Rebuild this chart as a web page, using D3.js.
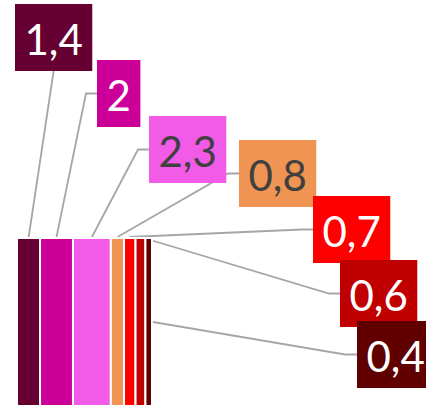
<!DOCTYPE html>
<html>
<head>
    <title></title>
    <style>
        body { margin: 0; background: #fff; }
    </style>
</head>
<body>
<div id="container"></div>

<script src="https://d3js.org/d3.v7.min.js" type="text/javascript"></script>
<script type="text/javascript">
    let w = 426;
    let h = 407;

    // data
    const categories = ['a', 'b', 'c', 'd', 'e', 'f', 'g'];
    const values = [1.4, 2, 2.3, 0.8, 0.7, 0.6, 0.4];
    const valueLabels = ['1,4', '2', '2,3', '0,8', '0,7', '0,6', '0,4'];

    const colors = ['#660033', '#cc0099', '#f25ae8', '#f09453', '#ff0000', '#c00000', '#600000'];
    const textColors = ['#fff', '#fff', '#404040', '#404040', '#fff', '#fff', '#fff'];
    // label box top-left (moved by hand in the original)
    const labelPos = [[15, 4], [97, 60], [149, 116], [239, 140], [313, 196], [340, 260], [357, 321]];

    const svg = d3.select('#container')
        .append('svg')
        .attr('width', w)
        .attr('height', h);

    const margin = {left: 17, right: 274, top: 238, bottom: 1};

    let total = d3.sum(values);
    let x = d3.scaleLinear().domain([0, total]).range([margin.left, w - margin.right]);
    let y = d3.scaleBand().domain(['bar']).range([margin.top, h - margin.bottom]);

    let starts = [];
    let acc = 0;
    values.forEach(v => { starts.push(acc); acc += v; });

    // leader lines first so bars sit on top
    const lines = svg.append('g');
    const main = svg.append('g');
    const labels = svg.append('g');

    main.selectAll('rect')
        .data(values)
        .enter()
        .append('rect')
        .attr('x', (d, i) => x(starts[i]))
        .attr('y', y('bar'))
        .attr('width', (d, i) => x(starts[i] + d) - x(starts[i]))
        .attr('height', y.bandwidth())
        .style('fill', (d, i) => colors[i])
        .style('stroke', '#fff')
        .style('stroke-width', 2);

    const padX = 9.5;
    const boxH = 67;

    valueLabels.forEach((t, i) => {
        let g = labels.append('g');
        let p = labelPos[i];
        let rect = g.append('rect');
        let txt = g.append('text')
            .text(t)
            .style('font-family', 'Lato, sans-serif')
            .style('font-size', '42px')
            .style('fill', textColors[i]);
        let tw = txt.node().getComputedTextLength();
        let bw = tw + padX * 2;
        rect.attr('x', p[0]).attr('y', p[1])
            .attr('width', bw).attr('height', boxH)
            .style('fill', colors[i]);
        txt.attr('x', p[0] + padX).attr('y', p[1] + 51);

        // leader line
        let pts;
        let cx = x(starts[i] + values[i] / 2);
        if (i === 0) {
            pts = [[p[0] + bw / 2, p[1] + boxH], [cx, y('bar')]];
        } else if (i === values.length - 1) {
            let ym = y('bar') + y.bandwidth() / 2;
            pts = [[p[0], p[1] + boxH / 2], [p[0] - 12, p[1] + boxH / 2], [x(total) + 1, ym]];
        } else {
            pts = [[p[0], p[1] + boxH / 2], [p[0] - 11, p[1] + boxH / 2], [cx, y('bar') - 1]];
        }
        lines.append('path')
            .attr('d', d3.line()(pts))
            .style('fill', 'none')
            .style('stroke', '#a6a6a6')
            .style('stroke-width', 1.8);
    });
</script>
</body>
</html>
